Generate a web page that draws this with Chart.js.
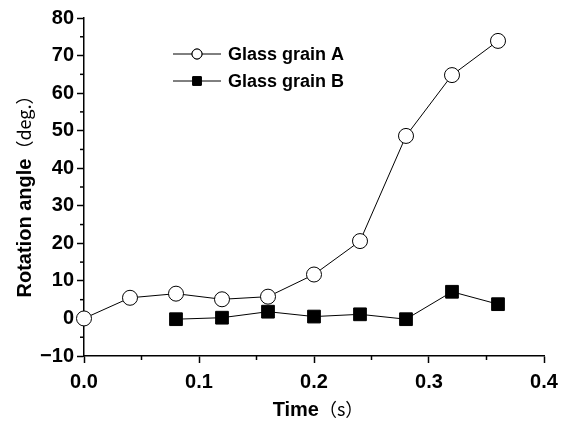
<!DOCTYPE html>
<html>
<head>
<meta charset="utf-8">
<script src="https://cdn.jsdelivr.net/npm/chart.js@4.4.1/dist/chart.umd.min.js"></script>
<style>
  html, body { margin: 0; padding: 0; background: #fff; }
  #wrap { width: 567px; height: 423px; }
</style>
</head>
<body>
<div id="wrap"><canvas id="myChart"></canvas></div>
<script>
// values
const seriesNames = ["Glass grain A", "Glass grain B"];
const timeA = [0, 0.04, 0.08, 0.12, 0.16, 0.20, 0.24, 0.28, 0.32, 0.36];
const angleA = [0, 5.5, 6.6, 5.1, 5.8, 11.7, 20.6, 48.6, 64.8, 73.9];
const timeB = [0.08, 0.12, 0.16, 0.20, 0.24, 0.28, 0.32, 0.36];
const angleB = [-0.2, 0.2, 1.8, 0.5, 1.1, -0.2, 7.1, 3.8];
const xTicks = [0, 0.1, 0.2, 0.3, 0.4];
const yTicks = [-10, 0, 10, 20, 30, 40, 50, 60, 70, 80];

const tickFont = { family: "'Liberation Sans', Arial, sans-serif", size: 20, weight: "bold" };

// minor ticks halfway between the major ones
const minorTicks = {
    id: "minorTicks",
    afterDraw(chart) {
        const ctx = chart.ctx;
        const xs = chart.scales.x, ys = chart.scales.y;
        const area = chart.chartArea;
        ctx.save();
        ctx.strokeStyle = "#000";
        ctx.lineWidth = 1.5;
        for (let i = 0; i < xTicks.length - 1; i++) {
            const px = xs.getPixelForValue((xTicks[i] + xTicks[i + 1]) / 2);
            ctx.beginPath();
            ctx.moveTo(px, area.bottom);
            ctx.lineTo(px, area.bottom + 4);
            ctx.stroke();
        }
        for (let i = 0; i < yTicks.length - 1; i++) {
            const py = ys.getPixelForValue((yTicks[i] + yTicks[i + 1]) / 2);
            ctx.beginPath();
            ctx.moveTo(area.left, py);
            ctx.lineTo(area.left - 4, py);
            ctx.stroke();
        }
        ctx.restore();
    }
};

// axis titles with the bracket part in a lighter font
function drawTitle(ctx, parts, x, y, rotate) {
    ctx.save();
    ctx.translate(x, y);
    if (rotate) ctx.rotate(-Math.PI / 2);
    ctx.fillStyle = "#000";
    ctx.textBaseline = "middle";
    ctx.textAlign = "left";
    let total = 0;
    parts.forEach(p => { ctx.font = p.font; p.w = ctx.measureText(p.text).width; total += p.w; });
    let cx = -total / 2;
    parts.forEach(p => { ctx.font = p.font; ctx.fillText(p.text, cx, p.dy || 0); cx += p.w; });
    ctx.restore();
}

const axisTitles = {
    id: "axisTitles",
    afterDraw(chart) {
        const ctx = chart.ctx;
        const area = chart.chartArea;
        const bold = "bold 20px 'Liberation Sans', Arial, sans-serif";
        const light = "18px 'Noto Sans CJK JP', sans-serif";
        drawTitle(ctx, [{ text: "Rotation angle", font: bold }, { text: "（deg.）", font: light, dy: -1 }],
            25, (area.top + area.bottom) / 2 + 5, true);
        drawTitle(ctx, [{ text: "Time", font: bold }, { text: "（s）", font: light, dy: -1 }],
            (area.left + area.right) / 2 + 4, 410, false);
    }
};

// legend inside the plot area
const innerLegend = {
    id: "innerLegend",
    afterDraw(chart) {
        const ctx = chart.ctx;
        const rows = [
            { y: 54, style: "circle", radius: 5 },
            { y: 81, style: "rect", radius: 6 }
        ];
        ctx.save();
        chart.data.datasets.forEach((ds, i) => {
            const r = rows[i];
            ctx.strokeStyle = "#000";
            ctx.lineWidth = 1;
            ctx.beginPath();
            ctx.moveTo(173, r.y);
            ctx.lineTo(221, r.y);
            ctx.stroke();
            ctx.fillStyle = ds.pointBackgroundColor;
            Chart.helpers.drawPoint(ctx, { pointStyle: r.style, radius: r.radius, borderWidth: 1 }, 197, r.y);
            ctx.fill();
            ctx.stroke();
            ctx.fillStyle = "#000";
            ctx.font = "bold 18px 'Liberation Sans', Arial, sans-serif";
            ctx.textBaseline = "middle";
            ctx.fillText(ds.label, 228, r.y + 1);
        });
        ctx.restore();
    }
};

const ctx = document.getElementById("myChart").getContext("2d");
new Chart(ctx, {
    type: "line",
    data: {
        datasets: [{
            label: seriesNames[0],
            data: timeA.map((t, i) => ({ x: t, y: angleA[i] })),
            borderColor: "#000",
            borderWidth: 1,
            pointStyle: "circle",
            pointRadius: 7.5,
            pointBackgroundColor: "#fff",
            pointBorderColor: "#000",
            pointBorderWidth: 1,
            clip: false
        }, {
            label: seriesNames[1],
            data: timeB.map((t, i) => ({ x: t, y: angleB[i] })),
            borderColor: "#000",
            borderWidth: 1,
            pointStyle: "rect",
            pointRadius: 9,
            pointBackgroundColor: "#000",
            pointBorderColor: "#000",
            pointBorderWidth: 1,
            clip: false
        }]
    },
    options: {
        responsive: true,
        maintainAspectRatio: false,
        animation: false,
        layout: { padding: { left: 0, top: 18, right: 23, bottom: 0 } },
        plugins: { legend: { display: false }, tooltip: { enabled: false } },
        scales: {
            x: {
                type: "linear",
                min: 0, max: 0.4,
                afterFit(scale) { scale.height = 67; },
                afterBuildTicks(scale) { scale.ticks = xTicks.map(v => ({ value: v })); },
                border: { color: "#000", width: 1.5 },
                grid: { drawOnChartArea: false, color: "#000", tickLength: 7, tickWidth: 1.5 },
                ticks: { color: "#000", font: tickFont, padding: 7, callback: v => v.toFixed(1) }
            },
            y: {
                type: "linear",
                min: -10, max: 80,
                afterFit(scale) { scale.width = 84; },
                afterBuildTicks(scale) { scale.ticks = yTicks.map(v => ({ value: v })); },
                border: { color: "#000", width: 1.5 },
                grid: { drawOnChartArea: false, color: "#000", tickLength: 7, tickWidth: 1.5 },
                ticks: { color: "#000", font: tickFont, padding: 3, callback: v => (v < 0 ? "\u2212" + Math.abs(v) : String(v)) }
            }
        }
    },
    plugins: [minorTicks, axisTitles, innerLegend]
});
</script>
</body>
</html>
